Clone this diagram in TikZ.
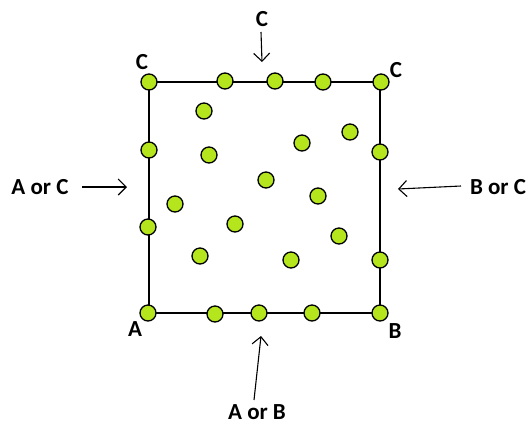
\documentclass[tikz,border=0pt]{standalone}
\usepackage{fontspec}
\setmainfont{Carlito}
\usetikzlibrary{arrows.meta}
\definecolor{lime}{HTML}{B5E61D}
\tikzset{
  dot/.style={circle,draw=black,line width=1.3pt,fill=lime,minimum size=16pt,inner sep=0pt},
  lbl/.style={font=\bfseries\fontsize{23}{23}\selectfont,inner sep=0pt},
  edge/.style={line width=1.6pt},
  ptr/.style={line width=1.1pt,-{Straight Barb[length=8pt,width=16pt,line width=1.1pt]}}
}
\begin{document}
\begin{tikzpicture}[x=1pt,y=-1pt]
\useasboundingbox (0,0) rectangle (529,424);
% square edges
\coordinate (TL) at (149,82);
\coordinate (TR) at (380,82);
\coordinate (BR) at (380,313);
\coordinate (BL) at (149,313);
\draw[edge] (TL) -- (TR) -- (BR) -- (BL) -- cycle;
% boundary dots
\node[dot] (t1) at (149,82) {};
\node[dot] (t2) at (225,81) {};
\node[dot] (t3) at (275,81) {};
\node[dot] (t4) at (323,82) {};
\node[dot] (t5) at (381,82) {};
\node[dot] (l1) at (149,150) {};
\node[dot] (l2) at (148,227) {};
\node[dot] (r1) at (380,152) {};
\node[dot] (r2) at (380,260) {};
\node[dot] (b1) at (148,313) {};
\node[dot] (b2) at (215,314) {};
\node[dot] (b3) at (259,313) {};
\node[dot] (b4) at (312,313) {};
\node[dot] (b5) at (380,313) {};
% interior dots
\node[dot] (i1) at (204,111) {};
\node[dot] (i2) at (350,132) {};
\node[dot] (i3) at (302,143) {};
\node[dot] (i4) at (209,155) {};
\node[dot] (i5) at (266,180) {};
\node[dot] (i6) at (318,196) {};
\node[dot] (i7) at (175,204) {};
\node[dot] (i8) at (235,224) {};
\node[dot] (i9) at (339,236) {};
\node[dot] (i10) at (200,256) {};
\node[dot] (i11) at (291,260) {};
% corner labels
\node[lbl] (cTL) at (142,62) {C};
\node[lbl] (cTR) at (396,70) {C};
\node[lbl] (cA) at (135,329) {A};
\node[lbl] (cB) at (395,331) {B};
% side labels
\node[lbl] (top) at (262,19) {C};
\node[lbl] (left) at (40,187) {A or C};
\node[lbl] (right) at (498,187) {B or C};
\node[lbl] (bot) at (257,412) {A or B};
% pointer arrows
\coordinate (topS) at (261,32);
\coordinate (topE) at (262,62);
\coordinate (leftS) at (82,187);
\coordinate (leftE) at (127,187);
\coordinate (rightS) at (461,186);
\coordinate (rightE) at (398,189);
\coordinate (botS) at (254,400);
\coordinate (botE) at (261,336);
\draw[ptr] (topS) -- (topE);
\draw[ptr] (leftS) -- (leftE);
\draw[ptr] (rightS) -- (rightE);
\draw[ptr] (botS) -- (botE);
\end{tikzpicture}
\end{document}
